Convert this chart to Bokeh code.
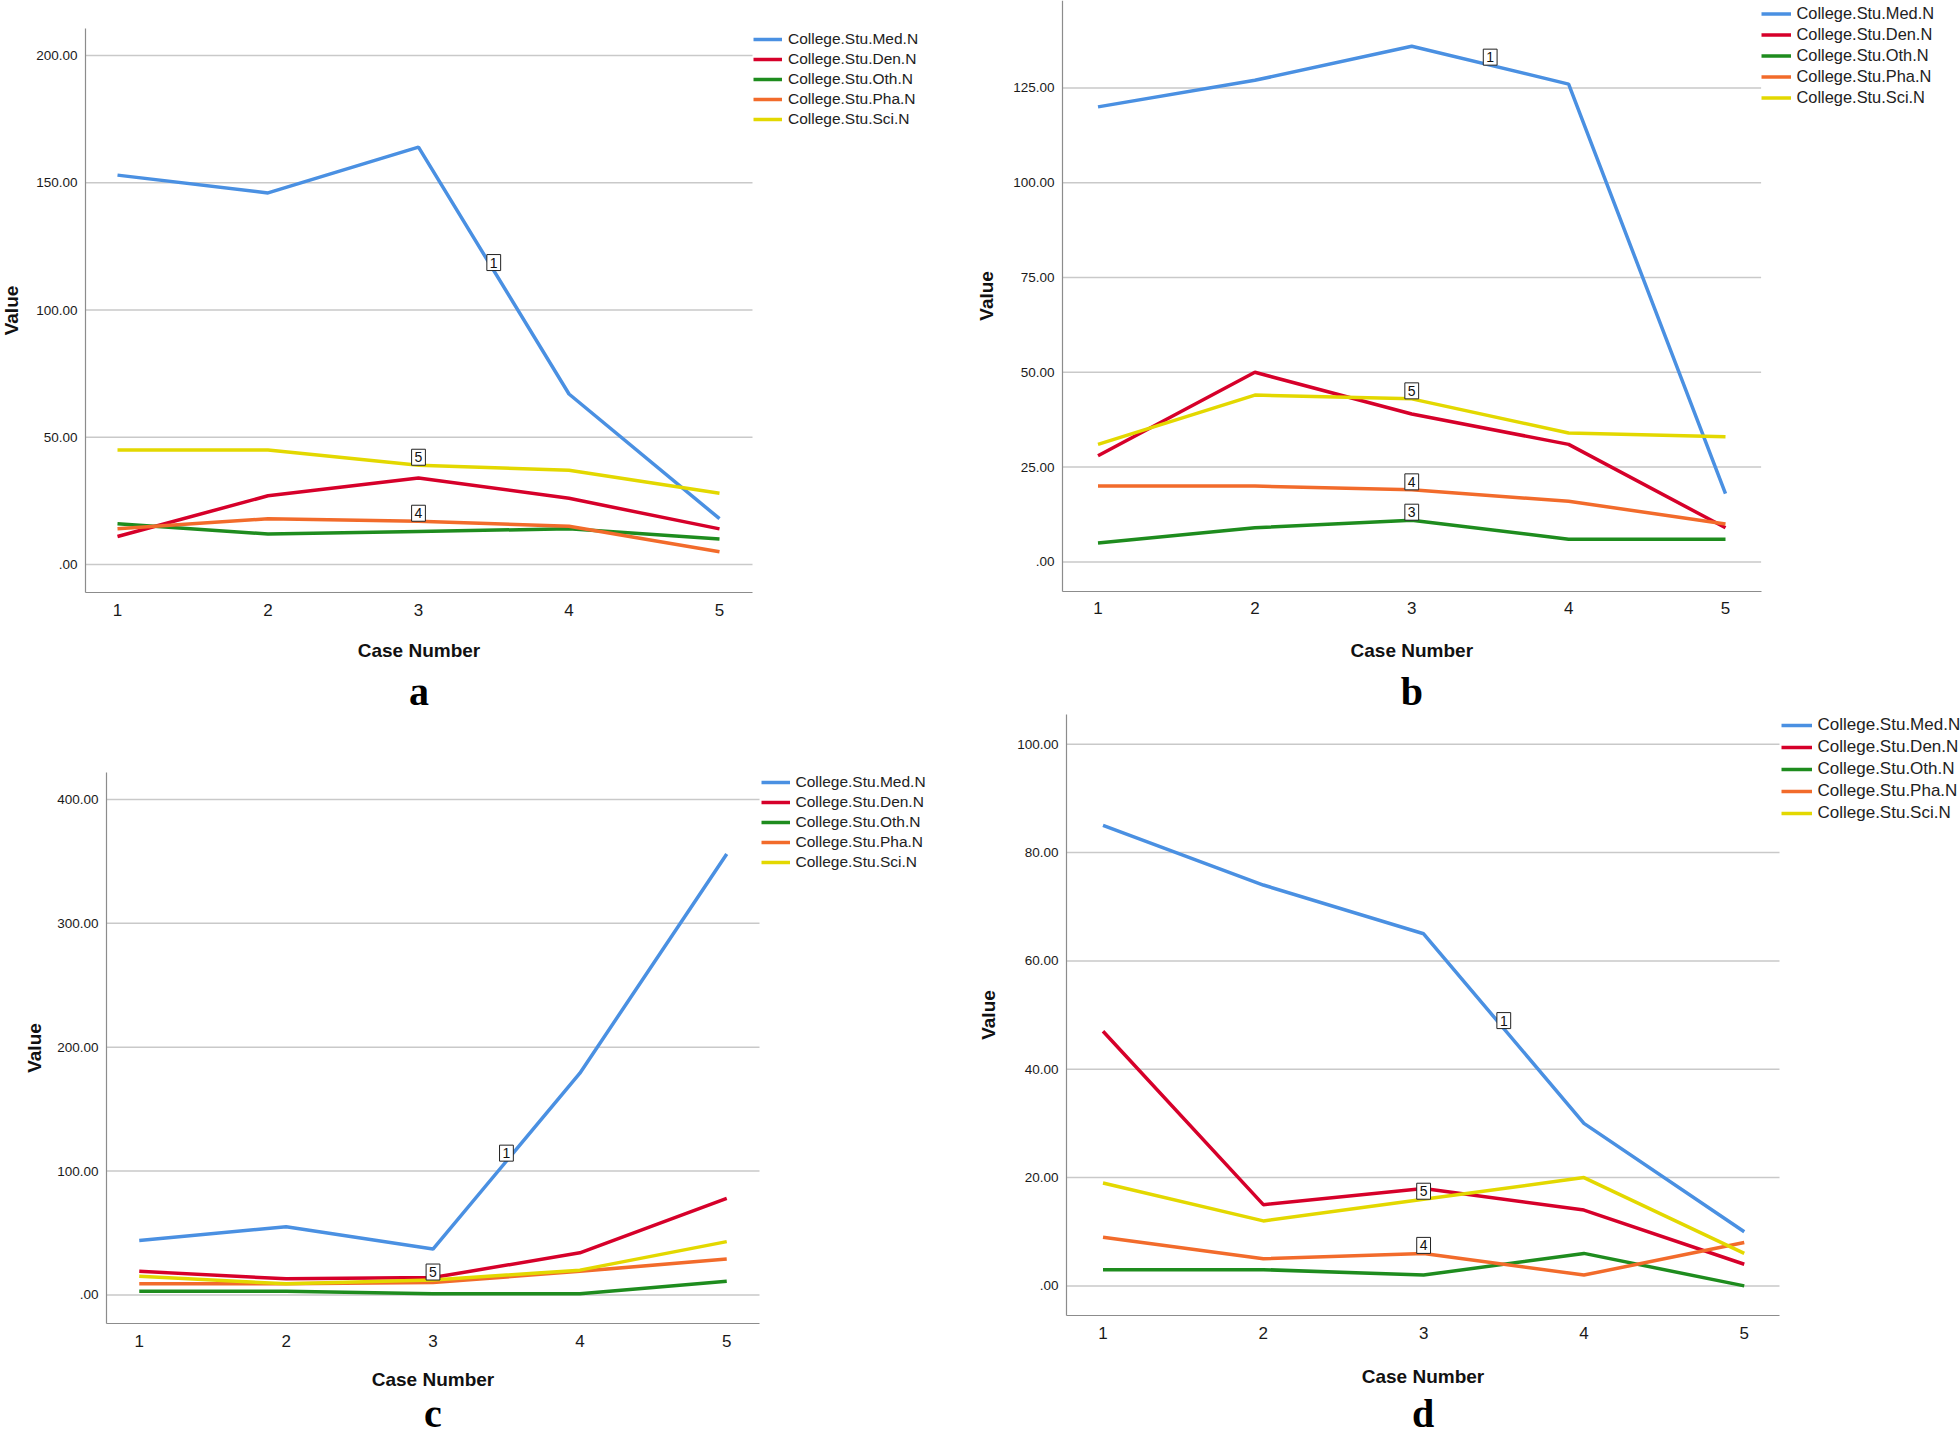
import numpy as np
from bokeh.plotting import figure
from bokeh.models import (Legend, LegendItem, Label, FixedTicker, Range1d,
                          LinearAxis)
from bokeh.core.properties import value
from bokeh.embed import file_html
from bokeh.resources import INLINE

# ---------------- data ----------------
cases = [1, 2, 3, 4, 5]
series_names = ["College.Stu.Med.N", "College.Stu.Den.N", "College.Stu.Oth.N",
                "College.Stu.Pha.N", "College.Stu.Sci.N"]

a_med = [153, 146, 164, 67, 18]
a_den = [11, 27, 34, 26, 14]
a_oth = [16, 12, 13, 14, 10]
a_pha = [14, 18, 17, 15, 5]
a_sci = [45, 45, 39, 37, 28]

b_med = [120, 127, 136, 126, 18]
b_den = [28, 50, 39, 31, 9]
b_oth = [5, 9, 11, 6, 6]
b_pha = [20, 20, 19, 16, 10]
b_sci = [31, 44, 43, 34, 33]

c_med = [44, 55, 37, 179, 356]
c_den = [19, 13, 14, 34, 78]
c_oth = [3, 3, 1, 1, 11]
c_pha = [9, 9, 10, 19, 29]
c_sci = [15, 9, 12, 20, 43]

d_med = [85, 74, 65, 30, 10]
d_den = [47, 15, 18, 14, 4]
d_oth = [3, 3, 2, 6, 0]
d_pha = [9, 5, 6, 2, 8]
d_sci = [19, 12, 16, 20, 6]

# line id tags (series number, case position)
a_tag_ids = [1, 5, 4]
a_tag_x = [3.5, 3, 3]
b_tag_ids = [1, 5, 4, 3]
b_tag_x = [3.5, 3, 3, 3]
c_tag_ids = [1, 5]
c_tag_x = [3.5, 3]
d_tag_ids = [1, 5, 4]
d_tag_x = [3.5, 3, 3]

a_yticks = [0, 50, 100, 150, 200]
a_ylabels = [".00", "50.00", "100.00", "150.00", "200.00"]
b_yticks = [0, 25, 50, 75, 100, 125]
b_ylabels = [".00", "25.00", "50.00", "75.00", "100.00", "125.00"]
c_yticks = [0, 100, 200, 300, 400]
c_ylabels = [".00", "100.00", "200.00", "300.00", "400.00"]
d_yticks = [0, 20, 40, 60, 80, 100]
d_ylabels = [".00", "20.00", "40.00", "60.00", "80.00", "100.00"]

x_title = "Case Number"
y_title = "Value"
panel_letters = ["a", "b", "c", "d"]

# ---------------- style / layout ----------------
colors = ["#4A90E2", "#D6002A", "#1E8C1E", "#F26B2B", "#E3D800"]
SANS = "Liberation Sans"
LEG_PAD = 2
FW, FH = 1960, 1436          # canvas size
OX, OY = 0, 0                # page position of the canvas origin

p = figure(width=FW, height=FH, output_backend="svg", toolbar_location=None,
           x_range=Range1d(0, FW), y_range=Range1d(FH, 0),
           x_axis_type=None, y_axis_type=None,
           min_border_left=0, min_border_right=0,
           min_border_top=0, min_border_bottom=0)
p.outline_line_color = None
p.background_fill_color = "white"
p.border_fill_color = "white"
p.xgrid.visible = False
p.ygrid.visible = False


def add_panel(key, series, yticks, ylabels, tag_ids, tag_x, letter, geo):
    axl, axr, axt, axb = [v - o for v, o in zip(geo["axis_box"], (OX, OX, OY, OY))]
    axt = max(axt, 0)
    x1p, x5p = [v - OX for v in geo["x_px"]]
    yhv, yhp, y0p = geo["y_px"]
    yhp -= OY
    y0p -= OY

    upx = 4.0 / (x5p - x1p)               # x data units per pixel
    upy = yhv / (y0p - yhp)               # y data units per pixel
    X = lambda px: 1 + (px - x1p) * upx   # canvas px -> data
    Y = lambda py: (y0p - py) * upy

    xr, yr = "x" + key, "y" + key
    p.extra_x_ranges[xr] = Range1d(X(0), X(FW))
    p.extra_y_ranges[yr] = Range1d(Y(FH), Y(0))
    kw = dict(x_range_name=xr, y_range_name=yr)

    x_lo, x_hi = X(axl), X(axr)
    y_lo, y_hi = Y(axb), Y(axt)

    # horizontal grid lines limited to the axis extent
    n = len(yticks)
    p.segment(x0=[x_lo] * n, x1=[x_hi] * n, y0=yticks, y1=yticks,
              line_color="#c9c9c9", line_width=1.5, **kw)

    renderers = []
    for vals, col in zip(series, colors):
        renderers.append(p.line(cases, vals, line_color=col, line_width=3.5, **kw))

    common = dict(axis_line_color="#8c8c8c", axis_line_width=1.2,
                  major_tick_line_color=None, minor_tick_line_color=None,
                  major_tick_out=0, major_tick_in=0, minor_tick_out=0,
                  minor_tick_in=0, major_label_text_font=SANS,
                  major_label_text_color="#1a1a1a", **kw)
    xa = LinearAxis(ticker=FixedTicker(ticks=cases), fixed_location=y_lo,
                    bounds=(x_lo, x_hi), major_label_standoff=11,
                    major_label_text_font_size="17px", **common)
    ya = LinearAxis(ticker=FixedTicker(ticks=yticks), fixed_location=x_lo,
                    bounds=(y_lo, y_hi), major_label_standoff=8,
                    major_label_text_font_size="13.5px",
                    major_label_overrides={t: l for t, l in zip(yticks, ylabels)},
                    **common)
    p.add_layout(xa, "below")
    p.add_layout(ya, "left")

    # axis titles and panel letter
    cx = (x_lo + x_hi) / 2.0
    cy = (y_lo + y_hi) / 2.0
    p.text(x=[cx], y=[Y(geo["xlab_y"] - OY)], text=[x_title],
           text_align="center", text_baseline="middle",
           text_font=value(SANS), text_font_style="bold",
           text_font_size="19px", text_color="#111111", **kw)
    p.text(x=[X(geo["ylab_x"] - OX)], y=[cy], text=[y_title], angle=np.pi / 2,
           text_align="center", text_baseline="middle",
           text_font=value(SANS), text_font_style="bold",
           text_font_size="19px", text_color="#111111", **kw)
    p.text(x=[cx], y=[Y(geo["letter_base"] - OY)], text=[letter],
           text_align="center", text_baseline="alphabetic",
           text_font=value("Liberation Serif"), text_font_style="bold",
           text_font_size="40px", text_color="#000000", **kw)

    # line id tags
    for sid, tx in zip(tag_ids, tag_x):
        ty = float(np.interp(tx, cases, series[sid - 1]))
        p.add_layout(Label(x=tx, y=ty, text=str(sid), anchor="bottom_center",
                           text_align="center", text_baseline="middle",
                           text_font=SANS, text_font_size="14px",
                           text_color="#111111", padding=3,
                           background_fill_color="white",
                           border_line_color="#222222", border_line_width=1, **kw))

    # legend right of the axis area
    row_h, fsize, gw = geo["legend_scale"]
    leg_h = 5 * row_h + 2 * LEG_PAD
    lx, lt = geo["legend_at"]
    vx = lx - OX - LEG_PAD
    vy = FH - (lt - OY - LEG_PAD + leg_h)
    legend = Legend(items=[LegendItem(label=nm, renderers=[r])
                           for nm, r in zip(series_names, renderers)],
                    location=(vx, vy), margin=0, padding=LEG_PAD,
                    spacing=0, glyph_width=gw, glyph_height=row_h,
                    label_height=row_h, label_standoff=6,
                    label_text_font=SANS, label_text_font_size=fsize,
                    label_text_color="#222222",
                    border_line_color=None, background_fill_alpha=0)
    p.add_layout(legend, "center")


# page-pixel geometry of each panel (layout constants)
geo_a = dict(axis_box=(85, 752, 28, 592), x_px=(117, 719), y_px=(200, 55, 564),
             legend_at=(755, 27), legend_scale=(20, "15.5px", 29),
             ylab_x=11, xlab_y=650, letter_base=691)
geo_b = dict(axis_box=(1062, 1760.6, 0, 590.8), x_px=(1097.5, 1725),
             y_px=(125, 87.4, 561.4), legend_at=(1762.5, 1),
             legend_scale=(21, "16.4px", 30), ylab_x=986,
             xlab_y=650, letter_base=691)
geo_c = dict(axis_box=(106, 759, 772, 1323), x_px=(138.75, 726.25),
             y_px=(400, 799, 1294.4), legend_at=(762.5, 770),
             legend_scale=(20, "15.5px", 29), ylab_x=34,
             xlab_y=1379, letter_base=1413)
geo_d = dict(axis_box=(1066, 1779, 714, 1315), x_px=(1102.5, 1743.75),
             y_px=(100, 743.7, 1285.4), legend_at=(1782.5, 711.5),
             legend_scale=(22, "17px", 31), ylab_x=988,
             xlab_y=1376, letter_base=1413)

add_panel("a", [a_med, a_den, a_oth, a_pha, a_sci], a_yticks, a_ylabels,
          a_tag_ids, a_tag_x, panel_letters[0], geo_a)
add_panel("b", [b_med, b_den, b_oth, b_pha, b_sci], b_yticks, b_ylabels,
          b_tag_ids, b_tag_x, panel_letters[1], geo_b)
add_panel("c", [c_med, c_den, c_oth, c_pha, c_sci], c_yticks, c_ylabels,
          c_tag_ids, c_tag_x, panel_letters[2], geo_c)
add_panel("d", [d_med, d_den, d_oth, d_pha, d_sci], d_yticks, d_ylabels,
          d_tag_ids, d_tag_x, panel_letters[3], geo_d)

open("out.html", "w").write(file_html(p, INLINE))
